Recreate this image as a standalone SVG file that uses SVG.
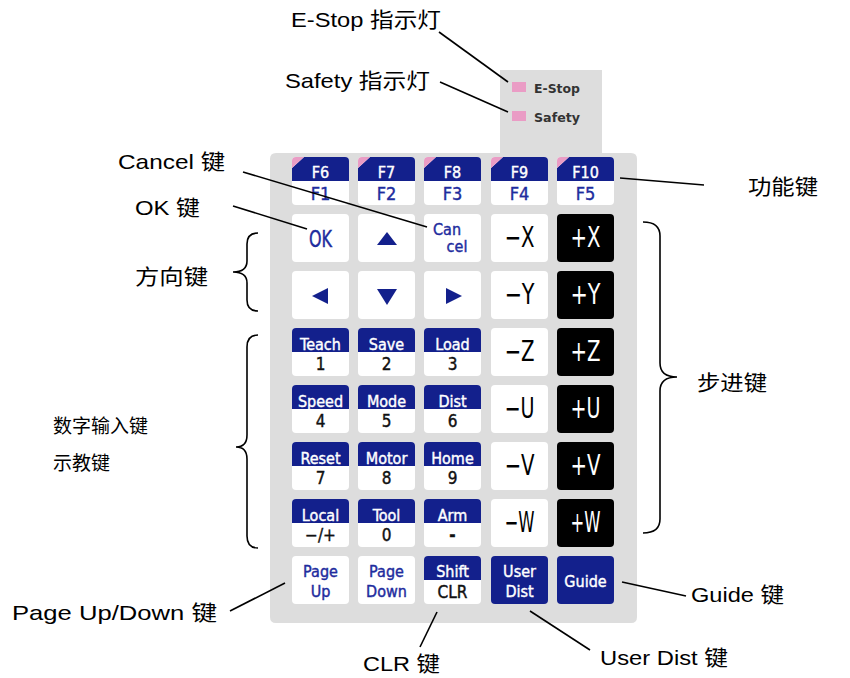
<svg xmlns="http://www.w3.org/2000/svg" width="850" height="678" viewBox="0 0 850 678">
<style>
.lbl{font-family:"Liberation Sans","Noto Sans CJK SC",sans-serif;font-size:21px;fill:#000}
.sm{font-size:19px}
.ln{stroke:#000;stroke-width:1.6;fill:none}
.key{fill:#fff}
.bk{fill:#000}
.bl{fill:#13208c}
.pk{fill:#ea9cc5}
.kt{font-family:"DejaVu Sans Condensed","DejaVu Sans",sans-serif;text-anchor:middle;stroke-width:0.4}
.hw{fill:#fff;stroke:#fff;font-size:16px}
.dg{fill:#111;stroke:#111;font-size:17px}
.bt{fill:#1e2c9e;stroke:#1e2c9e}
.ax{font-size:28px}
.led{font-family:"DejaVu Sans Condensed","DejaVu Sans",sans-serif;font-size:12px;font-weight:bold;fill:#333}
</style>
<rect width="850" height="678" fill="#fff"/>
<g id="panel">
<path d="M276,153 H500 V70 H602 V153 H631 Q637,153 637,159 V617 Q637,623 631,623 H276 Q270,623 270,617 V159 Q270,153 276,153 Z" fill="#dddddd"/>
<rect class="pk" x="512" y="82" width="14" height="10"/>
<rect class="pk" x="512" y="111" width="14" height="10"/>
<text class="led" x="534" y="93" textLength="46" lengthAdjust="spacingAndGlyphs">E-Stop</text>
<text class="led" x="534" y="122" textLength="46" lengthAdjust="spacingAndGlyphs">Safety</text>
</g>
<g id="fkeys">
<g id="kF1"><rect class="key" x="292" y="157" width="57" height="48" rx="4"/><path class="bl" d="M292,181 V168 L304,157 H345 Q349,157 349,161 V181 Z"/><path class="pk" d="M292,168 V161 Q292,157 296,157 H304 Z"/><text class="kt hw" x="320.5" y="178" font-size="18">F6</text><text class="kt bt" x="320.5" y="200" font-size="18">F1</text></g>
<g id="kF2"><rect class="key" x="358" y="157" width="57" height="48" rx="4"/><path class="bl" d="M358,181 V168 L370,157 H411 Q415,157 415,161 V181 Z"/><path class="pk" d="M358,168 V161 Q358,157 362,157 H370 Z"/><text class="kt hw" x="386.5" y="178" font-size="18">F7</text><text class="kt bt" x="386.5" y="200" font-size="18">F2</text></g>
<g id="kF3"><rect class="key" x="424" y="157" width="57" height="48" rx="4"/><path class="bl" d="M424,181 V168 L436,157 H477 Q481,157 481,161 V181 Z"/><path class="pk" d="M424,168 V161 Q424,157 428,157 H436 Z"/><text class="kt hw" x="452.5" y="178" font-size="18">F8</text><text class="kt bt" x="452.5" y="200" font-size="18">F3</text></g>
<g id="kF4"><rect class="key" x="491" y="157" width="57" height="48" rx="4"/><path class="bl" d="M491,181 V168 L503,157 H544 Q548,157 548,161 V181 Z"/><path class="pk" d="M491,168 V161 Q491,157 495,157 H503 Z"/><text class="kt hw" x="519.5" y="178" font-size="18">F9</text><text class="kt bt" x="519.5" y="200" font-size="18">F4</text></g>
<g id="kF5"><rect class="key" x="557" y="157" width="57" height="48" rx="4"/><path class="bl" d="M557,181 V168 L569,157 H610 Q614,157 614,161 V181 Z"/><path class="pk" d="M557,168 V161 Q557,157 561,157 H569 Z"/><text class="kt hw" x="585.5" y="178" font-size="18">F10</text><text class="kt bt" x="585.5" y="200" font-size="18">F5</text></g>
</g>
<g id="row2">
<g id="kOK"><rect class="key" x="292" y="214" width="57" height="48" rx="4"/><text class="kt bt" x="320.5" y="247" font-size="23" textLength="23" lengthAdjust="spacingAndGlyphs">OK</text></g>
<g id="kUp"><rect class="key" x="358" y="214" width="57" height="48" rx="4"/><path class="bl" d="M387,232 L397,245 H377 Z"/></g>
<g id="kCancel"><rect class="key" x="424" y="214" width="57" height="48" rx="4"/><text class="kt bt" x="447" y="235" font-size="16">Can</text><text class="kt bt" x="457" y="252" font-size="16">cel</text></g>
<g id="kmX"><rect class="key" x="491" y="214" width="57" height="48" rx="4"/><text class="kt ax" x="519.5" y="247" fill="#000" textLength="30" lengthAdjust="spacingAndGlyphs">−X</text></g>
<g id="kpX"><rect class="bk" x="557" y="214" width="57" height="48" rx="4"/><text class="kt ax" x="585.5" y="247" fill="#fff" textLength="30" lengthAdjust="spacingAndGlyphs">+X</text></g>
</g>
<g id="row3">
<g id="kLeft"><rect class="key" x="292" y="271" width="57" height="48" rx="4"/><path class="bl" d="M312,296 L328,288 V304 Z"/></g>
<g id="kDown"><rect class="key" x="358" y="271" width="57" height="48" rx="4"/><path class="bl" d="M377,289 H397 L387,305 Z"/></g>
<g id="kRight"><rect class="key" x="424" y="271" width="57" height="48" rx="4"/><path class="bl" d="M462,296 L446,288 V304 Z"/></g>
<g id="kmY"><rect class="key" x="491" y="271" width="57" height="48" rx="4"/><text class="kt ax" x="519.5" y="304" fill="#000" textLength="30" lengthAdjust="spacingAndGlyphs">−Y</text></g>
<g id="kpY"><rect class="bk" x="557" y="271" width="57" height="48" rx="4"/><text class="kt ax" x="585.5" y="304" fill="#fff" textLength="30" lengthAdjust="spacingAndGlyphs">+Y</text></g>
</g>
<g id="row4">
<g id="k1"><rect class="key" x="292" y="328" width="57" height="48" rx="4"/><path class="bl" d="M292,352 V332 Q292,328 296,328 H345 Q349,328 349,332 V352 Z"/><text class="kt hw" x="320.5" y="350">Teach</text><text class="kt dg" x="320.5" y="370">1</text></g>
<g id="k2"><rect class="key" x="358" y="328" width="57" height="48" rx="4"/><path class="bl" d="M358,352 V332 Q358,328 362,328 H411 Q415,328 415,332 V352 Z"/><text class="kt hw" x="386.5" y="350">Save</text><text class="kt dg" x="386.5" y="370">2</text></g>
<g id="k3"><rect class="key" x="424" y="328" width="57" height="48" rx="4"/><path class="bl" d="M424,352 V332 Q424,328 428,328 H477 Q481,328 481,332 V352 Z"/><text class="kt hw" x="452.5" y="350">Load</text><text class="kt dg" x="452.5" y="370">3</text></g>
<g id="kmZ"><rect class="key" x="491" y="328" width="57" height="48" rx="4"/><text class="kt ax" x="519.5" y="361" fill="#000" textLength="30" lengthAdjust="spacingAndGlyphs">−Z</text></g>
<g id="kpZ"><rect class="bk" x="557" y="328" width="57" height="48" rx="4"/><text class="kt ax" x="585.5" y="361" fill="#fff" textLength="30" lengthAdjust="spacingAndGlyphs">+Z</text></g>
</g>
<g id="row5">
<g id="k4"><rect class="key" x="292" y="385" width="57" height="48" rx="4"/><path class="bl" d="M292,409 V389 Q292,385 296,385 H345 Q349,385 349,389 V409 Z"/><text class="kt hw" x="320.5" y="407">Speed</text><text class="kt dg" x="320.5" y="427">4</text></g>
<g id="k5"><rect class="key" x="358" y="385" width="57" height="48" rx="4"/><path class="bl" d="M358,409 V389 Q358,385 362,385 H411 Q415,385 415,389 V409 Z"/><text class="kt hw" x="386.5" y="407">Mode</text><text class="kt dg" x="386.5" y="427">5</text></g>
<g id="k6"><rect class="key" x="424" y="385" width="57" height="48" rx="4"/><path class="bl" d="M424,409 V389 Q424,385 428,385 H477 Q481,385 481,389 V409 Z"/><text class="kt hw" x="452.5" y="407">Dist</text><text class="kt dg" x="452.5" y="427">6</text></g>
<g id="kmU"><rect class="key" x="491" y="385" width="57" height="48" rx="4"/><text class="kt ax" x="519.5" y="418" fill="#000" textLength="30" lengthAdjust="spacingAndGlyphs">−U</text></g>
<g id="kpU"><rect class="bk" x="557" y="385" width="57" height="48" rx="4"/><text class="kt ax" x="585.5" y="418" fill="#fff" textLength="30" lengthAdjust="spacingAndGlyphs">+U</text></g>
</g>
<g id="row6">
<g id="k7"><rect class="key" x="292" y="442" width="57" height="48" rx="4"/><path class="bl" d="M292,466 V446 Q292,442 296,442 H345 Q349,442 349,446 V466 Z"/><text class="kt hw" x="320.5" y="464">Reset</text><text class="kt dg" x="320.5" y="484">7</text></g>
<g id="k8"><rect class="key" x="358" y="442" width="57" height="48" rx="4"/><path class="bl" d="M358,466 V446 Q358,442 362,442 H411 Q415,442 415,446 V466 Z"/><text class="kt hw" x="386.5" y="464">Motor</text><text class="kt dg" x="386.5" y="484">8</text></g>
<g id="k9"><rect class="key" x="424" y="442" width="57" height="48" rx="4"/><path class="bl" d="M424,466 V446 Q424,442 428,442 H477 Q481,442 481,446 V466 Z"/><text class="kt hw" x="452.5" y="464">Home</text><text class="kt dg" x="452.5" y="484">9</text></g>
<g id="kmV"><rect class="key" x="491" y="442" width="57" height="48" rx="4"/><text class="kt ax" x="519.5" y="475" fill="#000" textLength="30" lengthAdjust="spacingAndGlyphs">−V</text></g>
<g id="kpV"><rect class="bk" x="557" y="442" width="57" height="48" rx="4"/><text class="kt ax" x="585.5" y="475" fill="#fff" textLength="30" lengthAdjust="spacingAndGlyphs">+V</text></g>
</g>
<g id="row7">
<g id="kSign"><rect class="key" x="292" y="499" width="57" height="48" rx="4"/><path class="bl" d="M292,523 V503 Q292,499 296,499 H345 Q349,499 349,503 V523 Z"/><text class="kt hw" x="320.5" y="521">Local</text><text class="kt dg" x="320.5" y="541">−/+</text></g>
<g id="k0"><rect class="key" x="358" y="499" width="57" height="48" rx="4"/><path class="bl" d="M358,523 V503 Q358,499 362,499 H411 Q415,499 415,503 V523 Z"/><text class="kt hw" x="386.5" y="521">Tool</text><text class="kt dg" x="386.5" y="541">0</text></g>
<g id="kDot"><rect class="key" x="424" y="499" width="57" height="48" rx="4"/><path class="bl" d="M424,523 V503 Q424,499 428,499 H477 Q481,499 481,503 V523 Z"/><text class="kt hw" x="452.5" y="521">Arm</text><text class="kt dg" x="452.5" y="541" font-weight="bold">-</text></g>
<g id="kmW"><rect class="key" x="491" y="499" width="57" height="48" rx="4"/><text class="kt ax" x="519.5" y="532" fill="#000" textLength="30" lengthAdjust="spacingAndGlyphs">−W</text></g>
<g id="kpW"><rect class="bk" x="557" y="499" width="57" height="48" rx="4"/><text class="kt ax" x="585.5" y="532" fill="#fff" textLength="30" lengthAdjust="spacingAndGlyphs">+W</text></g>
</g>
<g id="row8">
<g id="kPgUp"><rect class="key" x="292" y="556" width="57" height="48" rx="4"/><text class="kt bt" x="320.5" y="577" font-size="16">Page</text><text class="kt bt" x="320.5" y="597" font-size="16">Up</text></g>
<g id="kPgDn"><rect class="key" x="358" y="556" width="57" height="48" rx="4"/><text class="kt bt" x="386.5" y="577" font-size="16">Page</text><text class="kt bt" x="386.5" y="597" font-size="16">Down</text></g>
<g id="kShift"><rect class="key" x="424" y="556" width="57" height="48" rx="4"/><path class="bl" d="M424,580 V560 Q424,556 428,556 H477 Q481,556 481,560 V580 Z"/><text class="kt hw" x="452.5" y="577">Shift</text><text class="kt dg" x="452.5" y="598" font-size="16">CLR</text></g>
<g id="kUser"><rect class="bl" x="491" y="556" width="57" height="48" rx="4"/><text class="kt hw" x="519.5" y="577">User</text><text class="kt hw" x="519.5" y="597">Dist</text></g>
<g id="kGuide"><rect class="bl" x="557" y="556" width="57" height="48" rx="4"/><text class="kt hw" x="585.5" y="587">Guide</text></g>
</g>
<g id="connectors">
<line class="ln" x1="439" y1="32" x2="508" y2="82"/>
<line class="ln" x1="440" y1="82" x2="508" y2="112"/>
<line class="ln" x1="243" y1="172" x2="427" y2="227"/>
<line class="ln" x1="233" y1="206" x2="307" y2="229"/>
<line class="ln" x1="620" y1="178" x2="704" y2="185"/>
<line class="ln" x1="230" y1="611" x2="285" y2="583"/>
<line class="ln" x1="437" y1="612" x2="420" y2="647"/>
<line class="ln" x1="530" y1="611" x2="590" y2="650"/>
<line class="ln" x1="622" y1="582" x2="686" y2="596"/>
<path class="ln" d="M258,233 Q247,233 247,244 V261 Q247,272 233,272 Q247,272 247,283 V300 Q247,311 258,311"/>
<path class="ln" d="M258,335 Q247,335 247,347 V435 Q247,447 236,447 Q247,447 247,459 V536 Q247,548 258,548"/>
<path class="ln" d="M643,222 Q660,222 660,236 V363 Q660,377 677,377 Q660,377 660,391 V519 Q660,533 643,533"/>
</g>
<g id="labels">
<text class="lbl" x="291" y="27" textLength="150" lengthAdjust="spacingAndGlyphs">E-Stop 指示灯</text>
<text class="lbl" x="285" y="88" textLength="145" lengthAdjust="spacingAndGlyphs">Safety 指示灯</text>
<text class="lbl" x="118" y="169" textLength="107" lengthAdjust="spacingAndGlyphs">Cancel 键</text>
<text class="lbl" x="135" y="215" textLength="65" lengthAdjust="spacingAndGlyphs">OK 键</text>
<text class="lbl" x="748" y="194" textLength="70" lengthAdjust="spacingAndGlyphs">功能键</text>
<text class="lbl" x="135" y="284" textLength="73" lengthAdjust="spacingAndGlyphs">方向键</text>
<text class="lbl" x="697" y="390" textLength="70" lengthAdjust="spacingAndGlyphs">步进键</text>
<text class="lbl sm" x="53" y="433">数字输入键</text>
<text class="lbl sm" x="53" y="470">示教键</text>
<text class="lbl" x="12" y="620" textLength="205" lengthAdjust="spacingAndGlyphs">Page Up/Down 键</text>
<text class="lbl" x="691" y="602" textLength="93" lengthAdjust="spacingAndGlyphs">Guide 键</text>
<text class="lbl" x="363" y="671" textLength="77" lengthAdjust="spacingAndGlyphs">CLR 键</text>
<text class="lbl" x="600" y="665" textLength="128" lengthAdjust="spacingAndGlyphs">User Dist 键</text>
</g>
</svg>
